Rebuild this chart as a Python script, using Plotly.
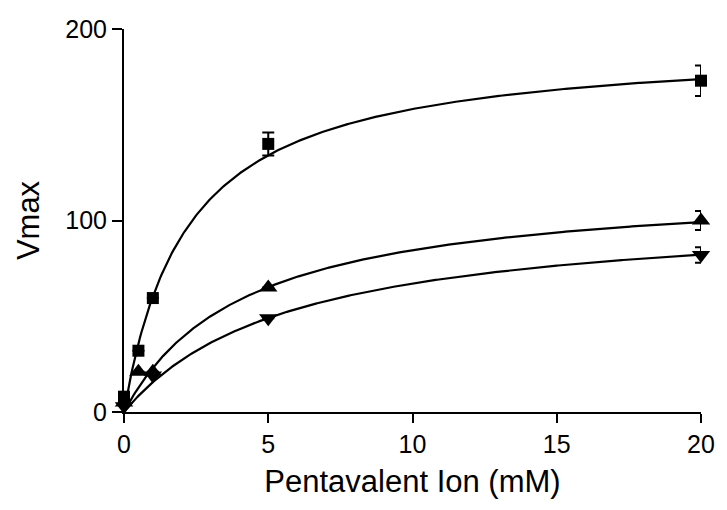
import plotly.graph_objects as go

# ---- data ----
sq_x = [0, 0.5, 1, 5, 20]
sq_y = [8, 32, 59.5, 140, 173]
sq_err = [None, None, None, 6, 8]

up_x = [0, 0.5, 1, 5, 20]
up_y = [5, 21, 21, 65, 100]
up_err = [None, None, None, None, 5]

dn_x = [0, 1, 5, 20]
dn_y = [3, 19, 49, 82]
dn_err = [None, None, None, 4]

# hyperbolic (Michaelis-Menten) fit parameters
fit_sq = dict(vmax=193, km=2.2)
fit_up = dict(vmax=120, km=4.2)
fit_dn = dict(vmax=106, km=5.8)

x_ticks = [0, 5, 10, 15, 20]
y_ticks = [0, 100, 200]

curve_x = [i * 0.05 for i in range(0, 401)]


def mm(p):
    return [p["vmax"] * x / (p["km"] + x) for x in curve_x]


fig = go.Figure()
for p in (fit_sq, fit_up, fit_dn):
    fig.add_trace(go.Scatter(x=curve_x, y=mm(p), mode="lines",
                             line=dict(color="black", width=2.2),
                             hoverinfo="skip", cliponaxis=False))

for xs, ys, es, sym, sz in ((sq_x, sq_y, sq_err, "square", 12),
                            (up_x, up_y, up_err, "triangle-up", 16),
                            (dn_x, dn_y, dn_err, "triangle-down", 16)):
    fig.add_trace(go.Scatter(
        x=xs, y=ys, mode="markers",
        marker=dict(symbol=sym, size=sz, color="black"),
        error_y=dict(type="data", array=es, visible=True, color="black",
                     thickness=2, width=6),
        cliponaxis=False))

font = "Liberation Sans, Arial, sans-serif"
fig.update_layout(
    width=727, height=510,
    margin=dict(l=124, r=21, t=29, b=98),
    paper_bgcolor="white", plot_bgcolor="white",
    showlegend=False,
    font=dict(family=font, color="black"),
    xaxis=dict(range=[0, 20], tickvals=x_ticks, ticks="outside", ticklen=9,
               tickwidth=2, tickcolor="black", showline=True, linecolor="black",
               linewidth=2, showgrid=False, zeroline=False,
               tickfont=dict(size=25, family=font),
               title=dict(text="Pentavalent Ion (mM)",
                          font=dict(size=31, family=font), standoff=13)),
    yaxis=dict(range=[0, 200], tickvals=y_ticks, ticks="outside", ticklen=10,
               tickwidth=2, tickcolor="black", showline=True, linecolor="black",
               linewidth=2, showgrid=False, zeroline=False,
               tickfont=dict(size=25, family=font),
               title=dict(text="Vmax", font=dict(size=31, family=font),
                          standoff=16)),
)

fig.write_html("out.html")
